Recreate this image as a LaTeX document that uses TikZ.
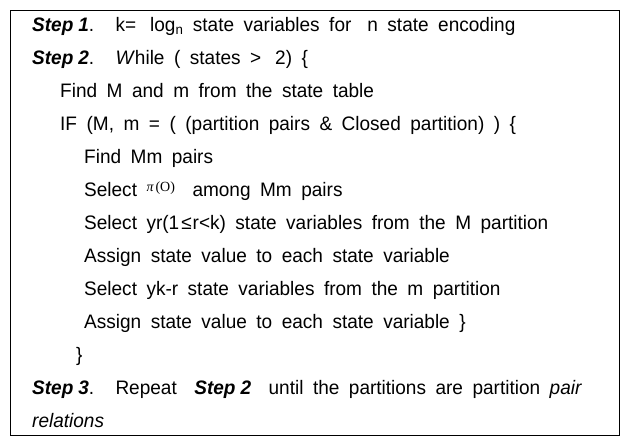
\documentclass[tikz,border=0pt]{standalone}
\usepackage{fontspec}
\setmainfont[FakeStretch=0.975,WordSpace=1.8]{Liberation Sans}
\newfontfamily\pifont{Liberation Serif}
\begin{document}
\begin{tikzpicture}[x=1pt,y=-1pt,
  ln/.style={anchor=base west,inner sep=0pt,font=\fontsize{19.5}{21}\selectfont},
  frame/.style={draw=black,line width=1.3pt}]
\useasboundingbox (0,0) rectangle (623,439);
\node[frame,minimum width=609pt,minimum height=425pt,anchor=north west,inner sep=0pt] (box) at (10,10) {};
\newcommand{\stp}[1]{\textbf{\textit{Step\hspace{5pt}#1}}}
\def\xa{32}\def\xb{60}\def\xc{84}
\node[ln] (l1) at (\xa,31) {\stp{1}.\hspace{10pt} k=\hspace{14pt}log\textsubscript{n} state variables for\hspace{16pt}n state encoding};
\node[ln] (l2) at (\xa,64) {\stp{2}.\hspace{10pt} \textit{W}hile ( states >\hspace{14pt}2) \{};
\node[ln] (l3) at (\xb,97) {Find M and m from the state table};
\node[ln] (l4) at (\xb,130) {IF (M, m = ( (partition pairs \& Closed partition) ) \{};
\node[ln] (l5) at (\xc,163) {Find Mm pairs};
\node[ln] (l6) at (\xc,196) {Select \raisebox{5pt}{\fontsize{14}{14}\selectfont\pifont{\itshape π}\hspace{2pt}(O)}\hspace{8pt} among Mm pairs};
\node[ln] (l7) at (\xc,229) {Select yr(1\hspace{2pt}≤\hspace{1pt}r<k) state variables from the M partition};
\node[ln] (l8) at (\xc,262) {Assign state value to each state variable};
\node[ln] (l9) at (\xc,295) {Select yk-r state variables from the m partition};
\node[ln] (l10) at (\xc,328) {Assign state value to each state variable \}};
\node[ln] (l11) at (76,361) {\}};
\node[ln] (l12) at (\xa,394) {\stp{3}.\hspace{10pt} Repeat\hspace{8pt} \stp{2}\hspace{8pt} until the partitions are partition \textit{pair}};
\node[ln] (l13) at (\xa,427) {\textit{relations}};
\end{tikzpicture}
\end{document}
